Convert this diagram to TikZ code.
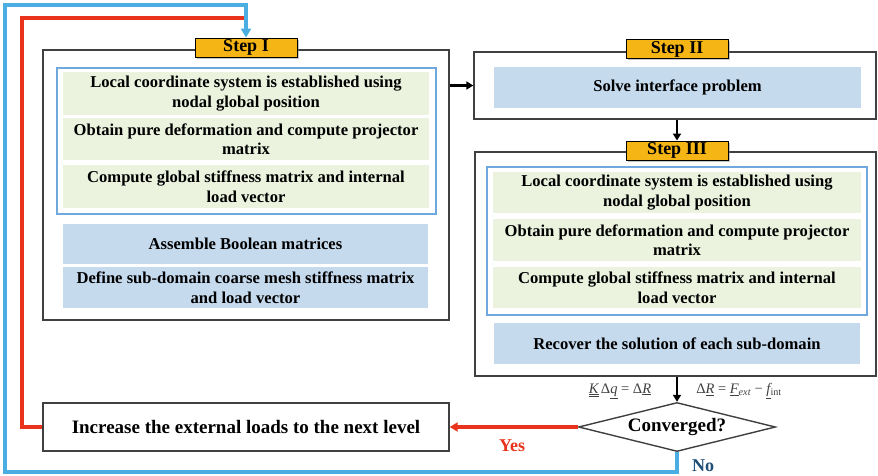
\documentclass[tikz,border=0pt]{standalone}
\usepackage{fontspec}
\setmainfont{Liberation Serif}
\usetikzlibrary{shapes.geometric,shadows,arrows.meta}
\definecolor{gfill}{HTML}{EBF3DF}
\definecolor{bfill}{HTML}{C6DAEE}
\definecolor{iborder}{HTML}{6FA8DC}
\definecolor{ofill}{HTML}{F5B514}
\definecolor{loopblue}{HTML}{4AAEE2}
\definecolor{loopred}{HTML}{E8341C}
\definecolor{nocol}{HTML}{1F4E79}
\definecolor{frame}{HTML}{404040}
\begin{document}
\begin{tikzpicture}[x=1pt,y=-1pt,
  outerbox/.style={draw=frame,line width=1.4pt,fill=white,inner sep=0pt},
  innerbox/.style={draw=iborder,line width=1.4pt,inner sep=0pt},
  gbox/.style={fill=gfill,inner sep=0pt,align=center,font=\fontsize{16.6}{19.5}\selectfont\bfseries},
  bbox/.style={fill=bfill,inner sep=0pt,align=center,font=\fontsize{16.6}{19.5}\selectfont\bfseries},
  steplabel/.style={draw=black,line width=0.9pt,fill=ofill,inner sep=0pt,minimum width=102pt,minimum height=19pt,
     font=\fontsize{18}{18}\selectfont\bfseries,drop shadow={shadow xshift=2pt,shadow yshift=-2pt,opacity=0.45}},
  blackarrow/.style={line width=2.2pt,-{Triangle[length=7pt,width=8pt]}},
  redline/.style={draw=loopred,line width=3.2pt},
  blueline/.style={draw=loopblue,line width=3.2pt},
  formula/.style={text=black!75,font=\fontsize{14.5}{15}\selectfont}
]
\path[use as bounding box] (0,0) rectangle (878,476);

% Step I
\node[outerbox,minimum width=406pt,minimum height=270pt] (s1) at (246,185) {};
\node[innerbox,minimum width=379pt,minimum height=146pt] (i1) at (246.5,141) {};
\node[gbox,minimum width=366pt,minimum height=43pt] (g11) at (246,93.5) {Local coordinate system is established using\\nodal global position};
\node[gbox,minimum width=366pt,minimum height=42pt] (g12) at (246,139) {Obtain pure deformation and compute projector\\matrix};
\node[gbox,minimum width=366pt,minimum height=43pt] (g13) at (246,186.5) {Compute global stiffness matrix and internal\\load vector};
\node[bbox,minimum width=365pt,minimum height=40pt] (b11) at (245.5,244) {Assemble Boolean matrices};
\node[bbox,minimum width=365pt,minimum height=41pt] (b12) at (245.5,287.5) {Define sub-domain coarse mesh stiffness matrix\\and load vector};
\node[steplabel] (L1) at (246,47.5) {Step I};

% Step II
\node[outerbox,minimum width=402pt,minimum height=67pt] (s2) at (675,85.5) {};
\node[bbox,minimum width=367pt,minimum height=41pt] (b2) at (677.5,87.5) {Solve interface problem};
\node[steplabel] (L2) at (677,49) {Step II};

% Step III
\node[outerbox,minimum width=401pt,minimum height=224pt] (s3) at (675.5,264) {};
\node[innerbox,minimum width=380pt,minimum height=148pt] (i3) at (677,241) {};
\node[gbox,minimum width=368pt,minimum height=41pt] (g31) at (677,192.5) {Local coordinate system is established using\\nodal global position};
\node[gbox,minimum width=368pt,minimum height=42pt] (g32) at (677,240) {Obtain pure deformation and compute projector\\matrix};
\node[gbox,minimum width=368pt,minimum height=41pt] (g33) at (677,287.5) {Compute global stiffness matrix and internal\\load vector};
\node[bbox,minimum width=366pt,minimum height=41pt] (b3) at (677,343.5) {Recover the solution of each sub-domain};
\node[steplabel] (L3) at (677,150.5) {Step III};

% decision and increase
\node[draw=frame,line width=1.4pt,shape=diamond,aspect=4,inner sep=0pt,minimum width=197pt,minimum height=49pt,
      font=\fontsize{19}{20}\selectfont\bfseries] (d) at (677,427) {Converged?};
\node[outerbox,minimum width=406pt,minimum height=48pt,font=\fontsize{19}{21}\selectfont\bfseries] (inc) at (246,427) {Increase the external loads to the next level};

% formulas
\node[formula] (f1) at (620,391) {\textit{\underline{\underline{K}}}\,Δ\textit{\underline{q}} = Δ\textit{\underline{R}}};
\node[formula] (f2) at (739,391) {Δ\textit{\underline{R}} = \textit{\underline{F}\textsubscript{ext}} − \textit{\underline{f}}\textsubscript{int}};

% connectors
\draw[blackarrow] (s1.east |- s2.west) -- (s2.west);
\draw[blackarrow] (L3.north |- s2.south) -- (L3.north);
\draw[blackarrow] (s3.south -| d.north) -- (d.north);

\coordinate (tl) at (5,5);
\coordinate (bl) at (5,472);
\coordinate (rt) at (22,18);
\draw[redline,-{Triangle[length=8pt,width=9pt]}] (d.west) -- (inc.east);
\draw[redline] (inc.west) -| (rt) -- (rt -| L1.north);
\draw[blueline,-{Triangle[length=9pt,width=10pt]}] (d.south) |- (bl) -- (tl) -| (L1.north);

\node[text=loopred,font=\fontsize{18}{19}\selectfont\bfseries] (yes) at (512,446) {Yes};
\node[text=nocol,font=\fontsize{18}{19}\selectfont\bfseries] (no) at (703,466) {No};
\end{tikzpicture}
\end{document}
